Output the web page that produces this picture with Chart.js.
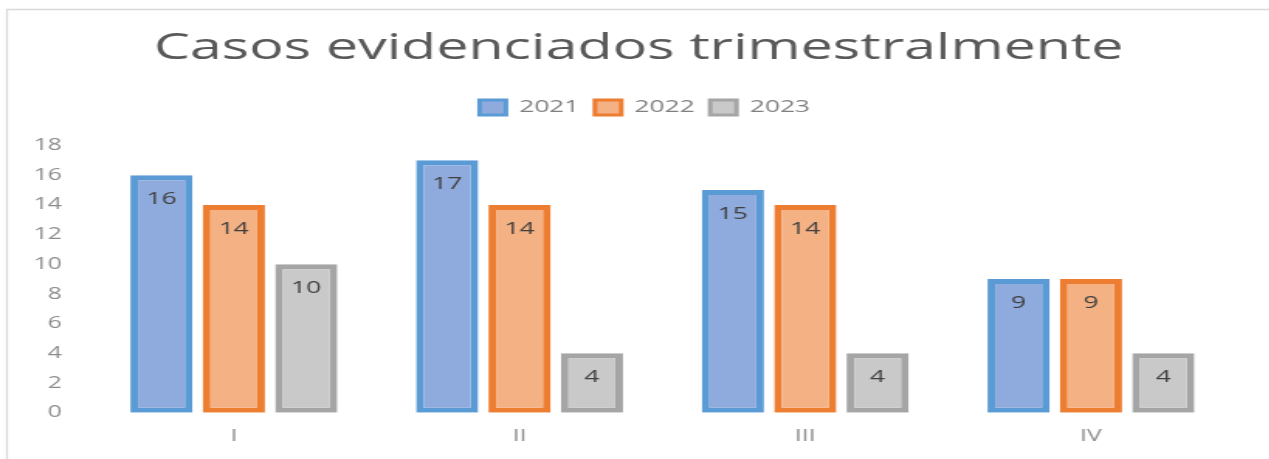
<!DOCTYPE html>
<html><head><meta charset="utf-8">
<script src="https://cdn.jsdelivr.net/npm/chart.js@4/dist/chart.umd.min.js"></script>
<style>
html,body{margin:0;padding:0;background:#fff;overflow:hidden;width:1269px;height:459px}
#wrap{position:absolute;left:0;top:0;width:819px;height:459px;transform:scaleX(1.55);transform-origin:0 0}
</style></head><body>
<div id="wrap"><canvas id="c" width="819" height="459"></canvas></div>
<script>
const categories = ['I', 'II', 'III', 'IV'];
const seriesNames = ['2021', '2022', '2023'];
const values2021 = [16, 17, 15, 9];
const values2022 = [14, 14, 14, 9];
const values2023 = [10, 4, 4, 4];
const yMin = 0, yMax = 18, yStep = 2;
const titleText = 'Casos evidenciados trimestralmente';

const FONT = '"Open Sans", sans-serif';

const framePlugin = {
  id: 'frame',
  beforeDraw(chart) {
    const ctx = chart.ctx;
    ctx.save();
    ctx.strokeStyle = '#d9d9d9';
    ctx.lineWidth = 1.3;
    ctx.beginPath();
    ctx.moveTo(4.5, chart.height);
    ctx.lineTo(4.5, 9.5);
    ctx.lineTo(chart.width, 9.5);
    ctx.stroke();
    ctx.restore();
  }
};

// spacing / offset tweaks for the title and legend boxes
const boxTweaks = {
  id: 'boxTweaks',
  beforeLayout(chart) {
    const lg = chart.legend, tb = chart.titleBlock;
    if (lg && !lg._tweaked) {
      const fit = lg.fit, draw = lg.draw;
      lg.fit = function () { fit.call(this); this.height += 19.5; };
      lg.draw = function () { const c = this.ctx; c.save(); c.translate(18, 0); draw.call(this); c.restore(); };
      lg._tweaked = true;
    }
    if (tb && !tb._tweaked) {
      const draw = tb.draw;
      tb.draw = function () { const c = this.ctx; c.save(); c.translate(14, 0); draw.call(this); c.restore(); };
      tb._tweaked = true;
    }
  }
};

const labelPlugin = {
  id: 'barLabels',
  afterDatasetsDraw(chart) {
    const ctx = chart.ctx;
    ctx.save();
    ctx.font = '17px ' + FONT;
    ctx.fillStyle = '#404040';
    ctx.textAlign = 'center';
    ctx.textBaseline = 'middle';
    chart.data.datasets.forEach((ds, i) => {
      chart.getDatasetMeta(i).data.forEach((bar, j) => {
        ctx.fillText(String(ds.data[j]), bar.x, bar.y + 24);
      });
    });
    ctx.restore();
  }
};

new Chart(document.getElementById('c'), {
  type: 'bar',
  data: {
    labels: categories,
    datasets: [
      { label: seriesNames[0], data: values2021, backgroundColor: '#8faadc', borderColor: '#5b9bd5' },
      { label: seriesNames[1], data: values2022, backgroundColor: '#f4b183', borderColor: '#ed7d31' },
      { label: seriesNames[2], data: values2023, backgroundColor: '#c9c9c9', borderColor: '#a5a5a5' }
    ]
  },
  options: {
    responsive: false,
    animation: false,
    devicePixelRatio: 1,
    layout: { padding: { top: 0, left: 0, right: 23, bottom: 0 } },
    datasets: {
      bar: { borderWidth: 5, borderSkipped: false, categoryPercentage: 0.76, barPercentage: 0.86 }
    },
    plugins: {
      tooltip: { enabled: false },
      title: {
        display: true, text: titleText, color: '#595959',
        font: { family: FONT, size: 37, weight: 'normal', lineHeight: 1.2 },
        padding: { top: 26, bottom: 18.6 }
      },
      legend: {
        display: true, position: 'top',
        labels: {
          color: '#7f7f7f', font: { family: FONT, size: 17 },
          boxWidth: 17, boxHeight: 15, padding: 10,
          generateLabels(chart) {
            return Chart.defaults.plugins.legend.labels.generateLabels(chart).map(l => Object.assign(l, { lineWidth: 3 }));
          }
        }
      }
    },
    scales: {
      x: {
        grid: { display: false, drawTicks: false },
        border: { display: false },
        ticks: { color: '#8c8c8c', font: { family: FONT, size: 16 }, padding: 14 },
        afterFit(scale) { scale.height = 46.3; }
      },
      y: {
        min: yMin, max: yMax,
        grid: { display: false, drawTicks: false },
        border: { display: false },
        ticks: { stepSize: yStep, color: '#8c8c8c', font: { family: FONT, size: 16 }, padding: 18.7 },
        afterFit(scale) { scale.width = 58.7; }
      }
    }
  },
  plugins: [framePlugin, boxTweaks, labelPlugin]
});
</script>
</body></html>
